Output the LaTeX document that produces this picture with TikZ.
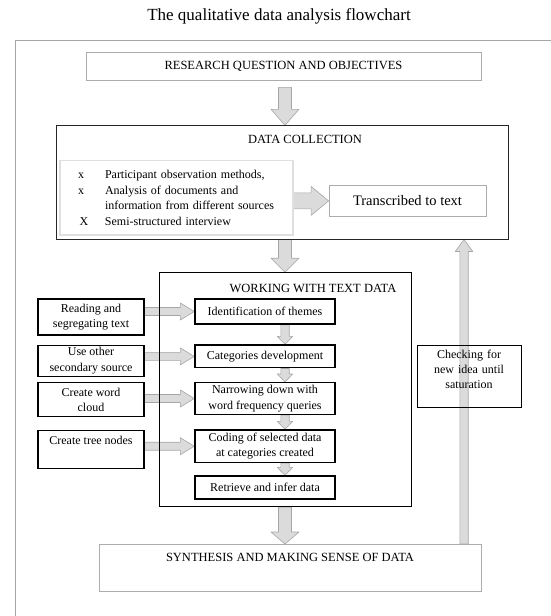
\documentclass[tikz,border=0pt]{standalone}
\usepackage{fontspec}
\setmainfont{Liberation Serif}
\usetikzlibrary{calc}
\pgfdeclarelayer{background}
\pgfsetlayers{background,main}

\newcommand{\txtfont}{\fontsize{12}{15.6}\selectfont}
\newcommand{\capfont}{\fontsize{12.5}{15}\selectfont}
% grey block arrow: start, tip, half shaft, half head, head length
\newcommand{\fatarrow}[5]{%
  \coordinate (fa-neck) at ($ (#2) ! #5 ! (#1) $);
  \path[fill=gray!28,draw=gray!70,line width=0.6pt,line join=round] ($ (#1) ! #3 ! 90:(#2) $) -- ($ (fa-neck) ! #3 ! -90:(#1) $) -- ($ (fa-neck) ! #4 ! -90:(#1) $) -- (#2) -- ($ (fa-neck) ! #4 ! 90:(#1) $) -- ($ (fa-neck) ! #3 ! 90:(#1) $) -- ($ (#1) ! #3 ! -90:(#2) $) -- cycle;
}

\begin{document}
\begin{tikzpicture}[x=1pt,y=-1pt,
    plainbox/.style={draw=gray!65,line width=0.6pt,inner sep=0pt,font=\capfont},
    grpbox/.style={draw=black!85,line width=0.9pt,inner sep=0pt},
    stepbox/.style={draw=black,line width=1.4pt,inner sep=0pt,align=center,minimum width=140pt,font=\txtfont},
    toolbox/.style={draw=black,line width=1.1pt,inner sep=0pt,align=center,minimum width=106pt,font=\txtfont},
    head/.style={inner sep=0pt,font=\capfont}]
  \useasboundingbox (0,0) rectangle (551,616);
  \draw[gray!70,line width=0.6pt] (551,40) -- (15,40) -- (15,616);

  \node[font=\fontsize{17}{20}\selectfont] (title) at (279,16.7) {The qualitative data analysis flowchart};

  \node[plainbox,minimum width=395pt,minimum height=27.7pt] (res) at (283.5,66.2) {RESEARCH QUESTION AND OBJECTIVES};

  % data collection
  \node[grpbox,minimum width=452pt,minimum height=113.3pt] (dc) at (282,182.4) {};
  \node[head] (dc-title) at (305,139.3) {DATA COLLECTION};
  \node[draw=gray!25,line width=1.2pt,inner ysep=0pt,inner xsep=18pt,text width=197pt,minimum height=74.3pt,align=left,font=\txtfont] (methods) at (176.5,197.9)
    {\makebox[27pt][l]{x}Participant observation methods,\\
     \makebox[27pt][l]{x}Analysis of documents and\\
     \hspace*{27pt}information from different sources\\
     \makebox[27pt][l]{\hspace{1.5pt}X}Semi-structured interview};
  \node[draw=gray!65,line width=0.8pt,inner sep=0pt,minimum width=157pt,minimum height=31.7pt,font=\fontsize{14.5}{17}\selectfont] (trans) at (407.5,200.9) {Transcribed to text};

  % working with text data
  \node[grpbox,draw=black,minimum width=252pt,minimum height=234pt] (work) at (285,389.7) {};
  \node[head] (work-title) at (313,288.3) {WORKING WITH TEXT DATA};
  \node[stepbox,minimum height=25pt] (themes) at (265,311.5) {Identification of themes};
  \node[stepbox,minimum height=22.7pt] (categories) at (265,356.4) {Categories development};
  \node[stepbox,minimum height=31.6pt] (narrowing) at (265,398.5) {Narrowing down with\\word frequency queries};
  \node[stepbox,minimum height=32.3pt] (coding) at (265,446.2) {Coding of selected data\\at categories created};
  \node[stepbox,minimum height=23pt] (retrieve) at (265,487.5) {Retrieve and infer data};

  \node[toolbox,minimum height=36pt] (reading) at (91,317) {Reading and\\segregating text};
  \node[toolbox,minimum height=31.7pt] (secondary) at (91,360.9) {Use other\\secondary source};
  \node[toolbox,minimum height=34pt] (cloud) at (91,399.7) {Create word\\cloud};
  \node[toolbox,text height=14pt,text depth=24.3pt,anchor=north] (tree) at (91,430) {Create tree nodes};

  \node[grpbox,draw=black,line width=0.8pt,minimum width=104pt,text width=100pt,align=center,text height=13.3pt,text depth=49pt,anchor=north,font=\fontsize{12}{15}\selectfont] (check) at (469,345) {Checking for\\new idea until\\saturation};

  \node[plainbox,minimum width=382pt,text height=17.4pt,text depth=29.3pt,anchor=north] (syn) at (290,544) {SYNTHESIS AND MAKING SENSE OF DATA};

  \coordinate (axis) at (285,0);
  \coordinate (up) at (464,0);
  \begin{pgfonlayer}{background}
    \coordinate (a0) at ($ (res.south -| axis) + (0,7) $);
    \fatarrow{a0}{dc.north -| axis}{6.5pt}{14pt}{16pt}
    \fatarrow{dc.south -| axis}{work.north -| axis}{6.5pt}{14pt}{14pt}
    \fatarrow{work.south -| axis}{syn.north -| axis}{6.5pt}{14pt}{12pt}
    \fatarrow{methods.east |- trans.west}{trans.west}{8pt}{14.5pt}{17.5pt}
    \fatarrow{reading.east |- themes.west}{themes.west}{4pt}{8.5pt}{14pt}
    \fatarrow{secondary.east |- categories.west}{categories.west}{4pt}{8.5pt}{14pt}
    \fatarrow{cloud.east |- narrowing.west}{narrowing.west}{4pt}{8.5pt}{14pt}
    \fatarrow{tree.east |- coding.west}{coding.west}{4pt}{8.5pt}{14pt}
    \fatarrow{themes.south -| axis}{categories.north -| axis}{4.2pt}{7.7pt}{8pt}
    \fatarrow{categories.south -| axis}{narrowing.north -| axis}{4.2pt}{7.7pt}{8pt}
    \fatarrow{narrowing.south -| axis}{coding.north -| axis}{4.2pt}{7.7pt}{8pt}
    \fatarrow{coding.south -| axis}{retrieve.north -| axis}{4.2pt}{7.7pt}{8pt}
    \fatarrow{syn.north -| up}{dc.south -| up}{4.2pt}{8.8pt}{12pt}
  \end{pgfonlayer}
\end{tikzpicture}
\end{document}
